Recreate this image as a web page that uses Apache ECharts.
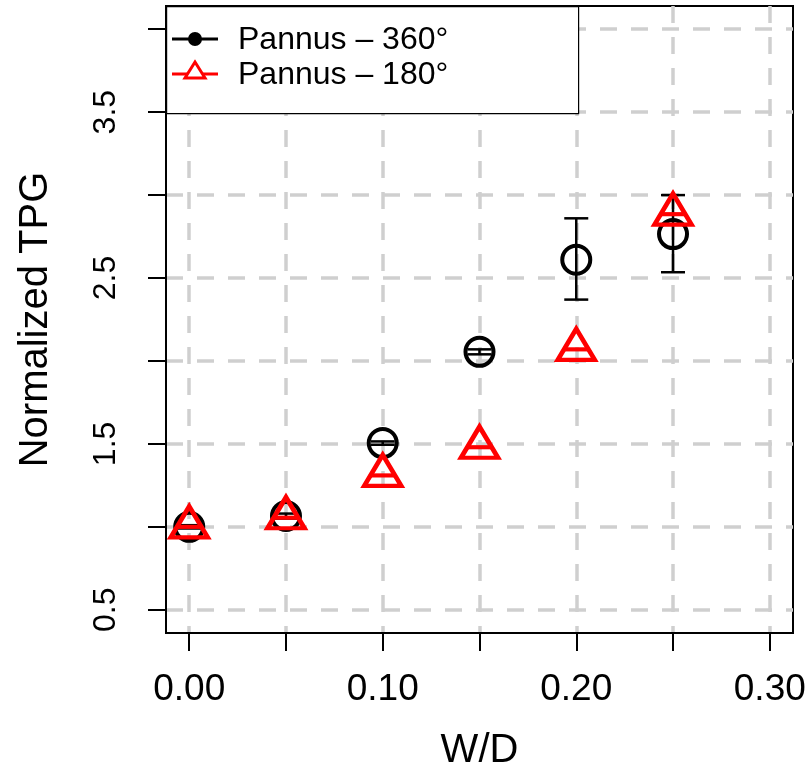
<!DOCTYPE html>
<html>
<head>
<meta charset="utf-8">
<script src="https://cdn.jsdelivr.net/npm/echarts@6/dist/echarts.min.js"></script>
<style>html,body{margin:0;padding:0;background:#fff}#c{width:809px;height:767px}</style>
</head>
<body>
<div id="c"></div>
<script>
// ---- data ----
const wd = [0, 0.05, 0.10, 0.15, 0.20, 0.25];
const tpg360 = [1.00, 1.065, 1.505, 2.055, 2.61, 2.765];
const lo360 = [0.99, 1.05, 1.495, 2.04, 2.37, 2.535];
const hi360 = [1.01, 1.08, 1.515, 2.07, 2.86, 3.00];
const tpg180 = [1.00, 1.055, 1.31, 1.48, 2.07, 2.885];
const lo180 = [0.995, 1.05, 1.305, 1.475, 2.065, 2.88];
const hi180 = [1.005, 1.06, 1.315, 1.485, 2.075, 2.89];
const xTicks = [0, 0.05, 0.10, 0.15, 0.20, 0.25, 0.30];
const xLabels = [0, 0.10, 0.20, 0.30];
const yTicks = [0.5, 1.0, 1.5, 2.0, 2.5, 3.0, 3.5, 4.0];
const yLabels = [0.5, 1.5, 2.5, 3.5];
const seriesNames = ['Pannus \u2013 360\u00b0', 'Pannus \u2013 180\u00b0'];

const FONT = 'Liberation Sans';
const chart = echarts.init(document.getElementById('c'), null, {renderer: 'canvas'});

function errSeries(lo, hi, color, z) {
  return {
    type: 'custom', z: z, silent: true,
    data: wd.map((x, i) => [x, lo[i], hi[i]]),
    renderItem: function (params, api) {
      const x = api.value(0);
      const p1 = api.coord([x, api.value(1)]);
      const p2 = api.coord([x, api.value(2)]);
      const w = 12;
      const st = {stroke: color, lineWidth: 2.5};
      return {type: 'group', children: [
        {type: 'line', shape: {x1: p1[0], y1: p1[1], x2: p2[0], y2: p2[1]}, style: st},
        {type: 'line', shape: {x1: p1[0]-w, y1: p1[1], x2: p1[0]+w, y2: p1[1]}, style: st},
        {type: 'line', shape: {x1: p2[0]-w, y1: p2[1], x2: p2[0]+w, y2: p2[1]}, style: st}
      ]};
    },
    encode: {x: 0, y: [1, 2]}
  };
}

const gridStyle = {color: '#cfcfcf', width: 3.5, type: [17, 14]};

chart.setOption({
  animation: false,
  backgroundColor: '#fff',
  grid: {left: 166, right: 16, top: 6, bottom: 134, show: true, borderColor: '#000', borderWidth: 2,
    backgroundColor: 'transparent', containLabel: false, outerBoundsMode: 'none'},
  xAxis: {
    type: 'value', min: -0.012, max: 0.312,
    name: 'W/D', nameLocation: 'middle', nameGap: 98,
    nameTextStyle: {fontFamily: FONT, fontSize: 40, color: '#000'},
    axisLine: {show: true, onZero: false, lineStyle: {color: '#000', width: 2}},
    axisTick: {show: true, inside: false, length: 18, customValues: xTicks, lineStyle: {color: '#000', width: 2}},
    axisLabel: {show: true, customValues: xLabels, margin: 38, fontFamily: FONT, fontSize: 37, color: '#000',
      formatter: v => Number(v).toFixed(2)},
    splitLine: {show: true, lineStyle: gridStyle}
  },
  yAxis: {
    type: 'value', min: 0.36, max: 4.14,
    name: 'Normalized TPG', nameLocation: 'middle', nameGap: 110, nameRotate: 90,
    nameTextStyle: {fontFamily: FONT, fontSize: 40, color: '#000'},
    axisLine: {show: true, onZero: false, lineStyle: {color: '#000', width: 2}},
    axisTick: {show: true, inside: false, length: 18, customValues: yTicks, lineStyle: {color: '#000', width: 2}},
    axisLabel: {show: true, customValues: yLabels, rotate: 90, margin: 44, fontFamily: FONT, fontSize: 32, color: '#000',
      formatter: v => Number(v).toFixed(1)},
    splitLine: {show: true, lineStyle: gridStyle}
  },
  series: [
    {
      name: seriesNames[0], type: 'scatter', z: 3,
      data: wd.map((x, i) => [x, tpg360[i]]),
      symbol: 'circle', symbolSize: 28,
      itemStyle: {color: 'transparent', borderColor: '#000', borderWidth: 4, opacity: 1}
    },
    errSeries(lo360, hi360, '#000', 4),
    {
      name: seriesNames[1], type: 'scatter', z: 5,
      data: wd.map((x, i) => [x, tpg180[i]]),
      symbol: 'triangle', symbolSize: [37, 31], symbolOffset: [0, -5],
      itemStyle: {color: 'transparent', borderColor: '#ff0000', borderWidth: 4.5, opacity: 1}
    },
    errSeries(lo180, hi180, '#ff0000', 6)
  ],
  graphic: [
    {type: 'rect', z: 100, zlevel: 1, left: 166, top: 6, shape: {width: 412, height: 107}, style: {fill: '#fff', stroke: '#000', lineWidth: 1.2}},
    {type: 'line', z: 101, zlevel: 1, shape: {x1: 172, y1: 39, x2: 218, y2: 39}, style: {stroke: '#000', lineWidth: 3}},
    {type: 'circle', z: 102, zlevel: 1, shape: {cx: 195, cy: 39, r: 7}, style: {fill: '#000'}},
    {type: 'text', z: 101, zlevel: 1, x: 238, y: 40, style: {text: seriesNames[0], fontFamily: FONT, fontSize: 32, fill: '#000', verticalAlign: 'middle'}},
    {type: 'line', z: 101, zlevel: 1, shape: {x1: 172, y1: 74, x2: 218, y2: 74}, style: {stroke: '#ff0000', lineWidth: 3}},
    {type: 'polygon', z: 102, zlevel: 1, shape: {points: [[195, 62], [205, 78], [185, 78]]}, style: {fill: '#fff', stroke: '#ff0000', lineWidth: 3}},
    {type: 'text', z: 101, zlevel: 1, x: 238, y: 75, style: {text: seriesNames[1], fontFamily: FONT, fontSize: 32, fill: '#000', verticalAlign: 'middle'}}
  ]
});
</script>
</body>
</html>
